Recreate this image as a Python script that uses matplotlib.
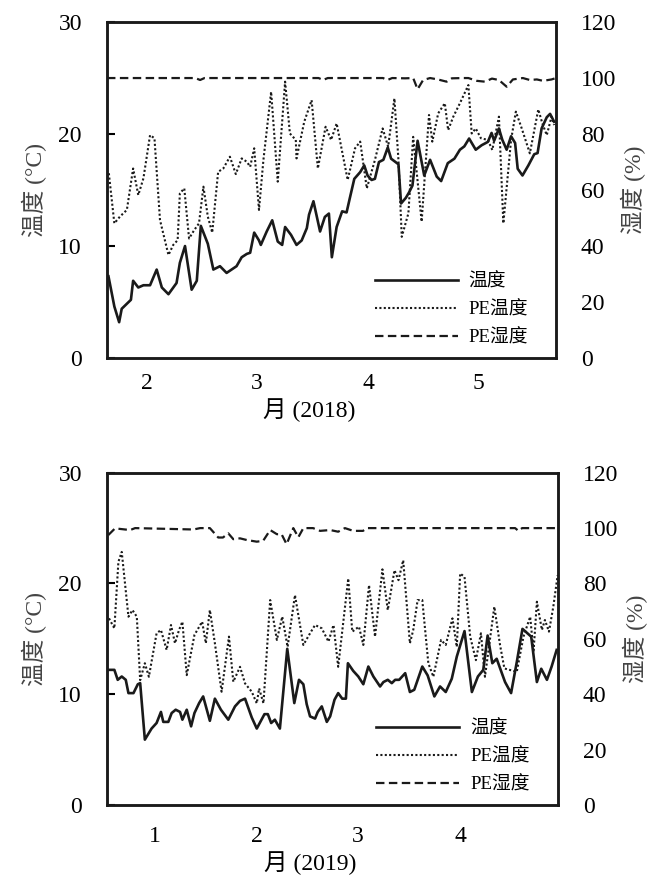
"""
Air temperature / PE film temperature and humidity, spring 2018 and 2019
"""

import matplotlib
matplotlib.use('Agg')
import matplotlib.pyplot as plt

FONT = ['Liberation Serif', 'Noto Sans CJK SC']
plt.rcParams['font.family'] = FONT

# ---- 2018 (x = day index from start of record) ----
t18_day = [0.4, 2.0, 3.3, 4.0, 6.5, 7.1, 8.5, 9.9, 11.7, 13.5, 14.9, 16.7, 18.9, 19.8,
           21.2, 23.0, 24.4, 25.5, 27.4, 28.9, 30.7, 32.5, 34.3, 35.2, 36.6, 38.0, 38.9,
           40.0, 41.3, 41.8, 43.4, 44.9, 46.4, 47.6, 48.4, 50.0, 51.5, 52.9, 54.3, 54.9,
           56.1, 57.9, 59.2, 60.3, 61.1, 62.4, 63.9, 65.1, 66.0, 67.2, 68.8, 69.9, 70.8,
           71.9, 72.8, 73.9, 75.1, 76.3, 77.2, 79.2, 79.9, 81.2, 82.1, 83.0, 84.4, 86.2,
           87.8, 89.6, 90.8, 92.6, 94.4, 95.9, 97.1, 98.4, 100.2, 101.8, 103.5, 104.5,
           105.2, 106.5, 107.4, 108.6, 109.8, 110.9, 111.6, 112.9, 114.5, 116.1, 117.0,
           118.1, 119.5, 120.4, 121.5]
t18 = [7.3, 4.6, 3.2, 4.4, 5.2, 6.9, 6.3, 6.5, 6.5, 7.9, 6.3, 5.7, 6.7, 8.5,
       10.0, 6.1, 6.9, 11.8, 10.2, 7.9, 8.2, 7.6, 8.0, 8.2, 9.0, 9.3, 9.4,
       11.2, 10.5, 10.1, 11.3, 12.3, 10.4, 10.1, 11.7, 11.0, 10.1, 10.5, 11.6, 12.8,
       14.0, 11.3, 12.6, 12.9, 9.0, 11.7, 13.1, 13.0, 14.3, 16.0, 16.6, 17.2, 16.3,
       15.9, 16.0, 17.5, 17.7, 18.8, 17.8, 17.3, 13.8, 14.3, 14.8, 15.4, 19.4, 16.3,
       17.7, 16.2, 15.8, 17.4, 17.8, 18.6, 18.9, 19.6, 18.6, 19.0, 19.3, 20.1,
       19.4, 20.5, 19.5, 18.6, 19.8, 19.2, 16.9, 16.3, 17.2, 18.2, 18.3,
       20.5, 21.5, 21.8, 21.1]

pe_t18_day = [0.5, 2.0, 3.5, 5.4, 7.1, 8.5, 9.9, 11.7, 12.9, 14.4, 16.7, 18.0, 19.2,
              19.8, 21.0, 22.3, 23.7, 25.0, 26.2, 27.4, 28.6, 30.2, 31.6, 33.4, 35.0,
              36.6, 38.0, 38.9, 40.0, 41.3, 42.5, 44.6, 46.4, 48.4, 49.7, 51.3, 51.5,
              53.6, 55.6, 57.3, 59.4, 60.9, 62.4, 65.4, 67.4, 68.8, 70.6, 72.8, 74.9,
              76.4, 78.1, 79.2, 80.1, 81.9, 83.2, 85.5, 87.5, 88.4, 90.0, 91.8, 92.7,
              94.1, 95.9, 98.2, 99.1, 100.2, 101.6, 103.5, 104.7, 106.5, 107.7, 109.8,
              111.1, 112.7, 114.9, 117.2, 118.3, 119.5, 120.8, 121.5]
pe_t18 = [66.0, 48.1, 50.5, 52.9, 67.7, 58.2, 64.2, 79.6, 78.5, 49.3, 36.8, 40.4, 42.1,
          58.8, 60.6, 42.7, 45.7, 48.1, 61.2, 50.5, 44.8, 66.5, 67.7, 71.9, 65.7,
          71.3, 70.1, 68.3, 74.9, 52.9, 70.7, 95.1, 63.0, 98.7, 80.2, 77.9, 71.3,
          84.4, 92.1, 67.7, 82.6, 77.9, 83.8, 63.6, 74.9, 77.3, 60.6, 70.7, 82.0,
          75.5, 92.7, 70.7, 43.3, 51.7, 79.0, 48.7, 86.8, 77.3, 87.4, 91.0, 81.4,
          86.2, 91.0, 97.5, 80.2, 82.0, 78.5, 77.9, 74.3, 86.2, 48.1, 77.9,
          88.0, 82.0, 73.1, 88.8, 83.8, 79.6, 86.2, 83.2]

pe_h18_day = [0, 24.0, 25.3, 26.5, 57.5, 58.7, 60.0, 75.0, 76.2, 77.5, 81.0, 83.2, 84.4,
              85.9, 87.8, 89.9, 92.3, 93.7, 96.7, 98.2, 100.5, 102.7, 104.6, 106.5,
              108.6, 110.3, 113.0, 114.9, 116.8, 118.5, 120.8, 122.0]
pe_h18 = [100, 100, 99.3, 100, 100, 99.3, 100, 100, 99.3, 100, 99.9, 100, 96.0,
          99.3, 100, 99.5, 98.7, 99.9, 100, 100, 99.0, 98.7, 99.8, 99.3,
          96.9, 99.5, 100, 99.3, 99.5, 99.0, 99.5, 100]

# ---- 2019 ----
t19_day = [0.4, 2.2, 3.2, 4.4, 5.6, 6.4, 7.9, 9.2, 9.9, 11.3, 13.3, 14.8, 16.1, 16.8,
           18.3, 19.3, 20.5, 21.8, 22.5, 23.8, 25.1, 26.1, 27.5, 28.7, 30.7, 32.2, 34.0,
           36.2, 38.2, 39.7, 41.2, 43.2, 44.7, 47.0, 48.0, 49.0, 50.1, 51.6, 53.8, 55.9,
           57.3, 58.6, 59.6, 60.6, 62.1, 62.9, 64.1, 65.6, 66.6, 67.9, 69.0, 70.2, 71.3,
           71.9, 73.5, 75.0, 76.5, 78.0, 79.5, 81.5, 82.5, 83.8, 85.0, 86.0, 87.2, 89.0,
           90.4, 91.7, 94.1, 95.7, 97.7, 99.4, 101.1, 102.9, 104.4, 106.7, 108.9, 110.7,
           112.3, 113.6, 115.0, 116.3, 118.8, 120.6, 122.3, 124.0, 126.6, 128.3, 129.6,
           131.3, 132.7, 134.2]
t19 = [12.2, 12.2, 11.3, 11.6, 11.3, 10.1, 10.1, 10.9, 11.0, 5.9, 6.9, 7.4, 8.4, 7.5,
       7.5, 8.3, 8.6, 8.4, 7.7, 8.6, 7.1, 8.3, 9.2, 9.8, 7.6, 9.6, 8.6,
       7.7, 8.9, 9.4, 9.6, 7.9, 6.9, 8.2, 8.2, 7.4, 7.7, 6.9, 14.1, 9.2,
       11.3, 10.9, 9.1, 8.0, 7.8, 8.4, 8.9, 7.5, 8.0, 9.5, 10.1, 9.6, 9.6,
       12.8, 12.1, 11.6, 10.9, 12.5, 11.6, 10.7, 11.1, 11.3, 11.0, 11.3, 11.3, 11.9,
       10.2, 10.4, 12.5, 11.7, 9.8, 10.7, 10.2, 11.4, 13.4, 15.7, 10.2, 11.6,
       12.2, 15.3, 12.8, 13.2, 11.1, 10.1, 12.9, 15.9, 15.2, 11.1, 12.3,
       11.3, 12.5, 14.0]

pe_t19_day = [0.6, 2.2, 3.4, 4.4, 6.4, 7.6, 8.9, 9.9, 11.3, 12.5, 14.8, 16.1, 17.8,
              19.1, 20.3, 21.5, 22.5, 23.8, 26.1, 28.4, 29.5, 30.7, 32.2, 34.2, 36.4,
              37.7, 39.7, 41.2, 43.2, 44.7, 45.4, 46.7, 48.7, 50.7, 52.3, 53.9, 56.1,
              58.6, 60.6, 62.1, 64.1, 66.1, 67.6, 69.0, 72.0, 73.2, 75.2, 76.5, 78.2,
              80.0, 82.2, 83.8, 85.8, 87.0, 88.4, 90.4, 91.4, 92.7, 94.1, 95.9, 97.4,
              99.7, 101.1, 103.1, 104.4, 105.4, 106.7, 108.4, 110.1, 111.6, 112.8, 115.6,
              117.3, 118.6, 122.3, 124.3, 126.3, 127.3, 128.3, 129.8, 130.7, 131.9,
              133.2, 134.5]
pe_t19 = [67.4, 63.8, 87.8, 91.4, 68.0, 70.4, 68.0, 45.1, 51.2, 46.3, 62.0, 63.2, 56.0,
          65.0, 58.4, 63.2, 66.2, 46.9, 61.4, 66.2, 58.4, 70.4, 58.4, 40.9, 60.8,
          44.5, 49.9, 43.9, 40.9, 36.7, 42.1, 36.7, 74.0, 59.6, 68.0, 57.1, 75.8,
          57.8, 62.0, 65.0, 63.8, 59.0, 65.0, 49.9, 81.8, 62.6, 64.4, 57.8, 79.4,
          60.8, 85.1, 70.4, 84.8, 81.2, 88.4, 58.4, 63.2, 74.0, 74.0, 51.2, 46.3,
          59.6, 57.8, 67.4, 57.1, 83.6, 82.4, 60.8, 52.3, 62.0, 46.3, 71.6,
          57.8, 49.3, 48.1, 60.8, 68.0, 55.3, 73.4, 63.2, 66.8, 62.6,
          71.6, 83.0]

pe_h19_day = [0.4, 2.4, 6.9, 8.4, 25.8, 27.8, 30.7, 33.2, 34.6, 36.2, 37.7, 39.7, 41.7,
              44.7, 46.6, 48.7, 50.7, 52.1, 53.6, 55.6, 57.1, 58.6, 61.5, 63.6, 66.6,
              69.0, 71.0, 73.5, 76.4, 77.6, 121.8, 122.8, 123.9, 134.6]
pe_h19 = [97.5, 99.9, 99.3, 100, 99.5, 100, 100, 96.6, 96.6, 98.1, 96.0, 96.3, 95.7,
          95.1, 95.4, 99.3, 97.8, 97.8, 94.2, 100, 96.7, 100, 100, 99.0, 99.3,
          98.7, 100, 99.0, 99.0, 100, 100, 99.0, 100, 100]

# month ticks
ticks18 = [10.9, 40.8, 71.0, 100.8]
labels18 = ['2', '3', '4', '5']
ticks19 = [14.3, 44.8, 74.9, 105.4]
labels19 = ['1', '2', '3', '4']


def draw_panel(fig, rect, xmax, t_day, t, pt_day, pt, ph_day, ph,
               ticks, ticklabels, xlabel, xpad):
    ax = fig.add_axes(rect)
    ax2 = ax.twinx()

    l1, = ax.plot(t_day, t, color='#1a1a1a', lw=1.9, label='温度')
    l2, = ax2.plot(pt_day, pt, color='#1a1a1a', lw=1.5, linestyle=(0, (1, 1.1)),
                   label='PE温度')
    l3, = ax2.plot(ph_day, ph, color='#1a1a1a', lw=1.6, linestyle=(0, (3.8, 2)),
                   label='PE湿度')

    ax.set_xlim(0, xmax)
    ax.set_ylim(0, 30)
    ax2.set_ylim(0, 120)
    ax.set_yticks([0, 10, 20, 30])
    ax2.set_yticks([0, 20, 40, 60, 80, 100, 120])
    ax.set_xticks(ticks)
    ax.set_xticklabels(ticklabels)

    ax.tick_params(axis='y', direction='in', length=6, width=1.5, pad=18, labelsize=17)
    ax.tick_params(axis='x', length=0, pad=xpad, labelsize=17)
    ax2.tick_params(axis='y', length=0, pad=18, labelsize=17)

    for a in (ax, ax2):
        for s in a.spines.values():
            s.set_linewidth(1.8)
            s.set_color('#1a1a1a')

    ax.set_ylabel('温度 (°C)', fontsize=17, labelpad=8, color='#444444')
    ax2.set_ylabel('湿度 (%)', fontsize=17, labelpad=3, color='#444444')
    ax.set_xlabel(xlabel, fontsize=17, labelpad=3)
    ax.xaxis.label.set_x(0.45)

    ax2.legend(handles=[l1, l2, l3], loc='lower left', bbox_to_anchor=(0.597, 0.035),
               frameon=False, fontsize=13.5, handlelength=4.4, handletextpad=0.6,
               labelspacing=0.55, borderpad=0, borderaxespad=0)
    return ax, ax2


fig = plt.figure(figsize=(6.54, 8.96), dpi=100)

draw_panel(fig, [0.1636, 0.6004, 0.6865, 0.375], 122.0,
           t18_day, t18, pe_t18_day, pe_t18, pe_h18_day, pe_h18,
           ticks18, labels18, '月 (2018)', 11)
draw_panel(fig, [0.1636, 0.1016, 0.6896, 0.3708], 134.6,
           t19_day, t19, pe_t19_day, pe_t19, pe_h19_day, pe_h19,
           ticks19, labels19, '月 (2019)', 15)

fig.savefig('out.png', dpi=100)
